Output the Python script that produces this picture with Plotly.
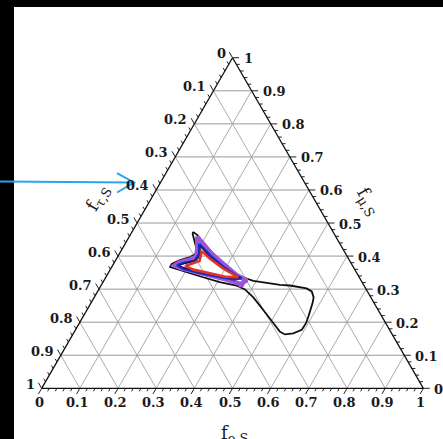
import math
import plotly.graph_objects as go

# ---------------- data (ternary fractions: f_e, f_mu; f_tau = 1 - f_e - f_mu) ----------------
tick_values = [0.0, 0.1, 0.2, 0.3, 0.4, 0.5, 0.6, 0.7, 0.8, 0.9, 1.0]
tick_labels = ["0", "0.1", "0.2", "0.3", "0.4", "0.5", "0.6", "0.7", "0.8", "0.9", "1"]
minor_step = 0.02

outer_black_fe = [0.160, 0.174, 0.202, 0.246, 0.301, 0.350, 0.392, 0.430, 0.468, 0.495, 0.543, 0.561,
                  0.575, 0.581, 0.586, 0.590, 0.594, 0.593, 0.576, 0.556, 0.539, 0.509, 0.463, 0.417,
                  0.383, 0.355, 0.306, 0.255, 0.204, 0.169, 0.153, 0.153, 0.168, 0.190, 0.200, 0.194,
                  0.177, 0.162]
outer_black_fmu = [0.473, 0.465, 0.442, 0.407, 0.367, 0.339, 0.325, 0.318, 0.313, 0.311, 0.302, 0.293,
                   0.275, 0.257, 0.239, 0.218, 0.197, 0.177, 0.166, 0.163, 0.171, 0.196, 0.236, 0.275,
                   0.299, 0.311, 0.321, 0.336, 0.352, 0.361, 0.367, 0.376, 0.388, 0.397, 0.405, 0.423,
                   0.447, 0.467]

purple_fe = [0.178, 0.198, 0.235, 0.287, 0.340, 0.374, 0.367, 0.369, 0.360, 0.320, 0.270, 0.221,
             0.180, 0.163, 0.171, 0.194, 0.206, 0.195]
purple_fmu = [0.459, 0.442, 0.412, 0.377, 0.342, 0.327, 0.320, 0.308, 0.317, 0.329, 0.342, 0.352,
              0.364, 0.372, 0.382, 0.390, 0.399, 0.426]

blue_fe = [0.194, 0.240, 0.293, 0.341, 0.357, 0.338, 0.289, 0.240, 0.190, 0.169, 0.182, 0.209, 0.209]
blue_fmu = [0.437, 0.402, 0.367, 0.340, 0.333, 0.329, 0.339, 0.349, 0.362, 0.372, 0.379, 0.385, 0.407]

inner_black_fe = [0.203, 0.242, 0.294, 0.350, 0.330, 0.280, 0.230, 0.185, 0.175, 0.195, 0.214, 0.212]
inner_black_fmu = [0.428, 0.397, 0.365, 0.335, 0.333, 0.343, 0.354, 0.366, 0.373, 0.381, 0.392, 0.410]

red_fe = [0.212, 0.245, 0.295, 0.347, 0.316, 0.267, 0.218, 0.191, 0.205, 0.221, 0.216]
red_fmu = [0.415, 0.392, 0.362, 0.336, 0.337, 0.348, 0.359, 0.370, 0.377, 0.385, 0.402]

# ---------------- helpers ----------------
S3 = math.sqrt(3) / 2


def to_xy(fe, fmu):
    return fe + fmu / 2.0, fmu * S3


def closed(fe_list, fmu_list):
    xs, ys = [], []
    for a, b in zip(fe_list + fe_list[:1], fmu_list + fmu_list[:1]):
        x, y = to_xy(a, b)
        xs.append(x)
        ys.append(y)
    return xs, ys


fig = go.Figure()

# grid lines
hx, hy, dx, dy = [], [], [], []
for v in tick_values[1:-1]:
    x0, y0 = to_xy(0.0, v)
    x1, y1 = to_xy(1.0 - v, v)
    hx += [x0, x1, None]
    hy += [y0, y1, None]
    x0, y0 = to_xy(v, 0.0)
    x1, y1 = to_xy(v, 1.0 - v)
    dx += [x0, x1, None]
    dy += [y0, y1, None]
    x0, y0 = to_xy(1.0 - v, 0.0)
    x1, y1 = to_xy(0.0, 1.0 - v)
    dx += [x0, x1, None]
    dy += [y0, y1, None]

fig.add_trace(go.Scatter(x=dx, y=dy, mode="lines", line=dict(color="#aaaaaa", width=1),
                         hoverinfo="skip", showlegend=False))
fig.add_trace(go.Scatter(x=hx, y=hy, mode="lines", line=dict(color="#999999", width=1),
                         hoverinfo="skip", showlegend=False))

# ticks
MAJ, MIN = 0.017, 0.009
tx, ty = [], []
n_minor = int(round(1 / minor_step))
for i in range(n_minor + 1):
    v = i * minor_step
    L = MAJ if i % 5 == 0 else MIN
    x, y = to_xy(v, 0.0)
    tx += [x, x - 0.5 * L, None]
    ty += [y, y - S3 * L, None]
    x, y = to_xy(0.0, 1.0 - v)
    tx += [x, x - 0.5 * L, None]
    ty += [y, y + S3 * L, None]
    x, y = to_xy(1.0 - v, v)
    tx += [x, x + L, None]
    ty += [y, y, None]

fig.add_trace(go.Scatter(x=tx, y=ty, mode="lines", line=dict(color="#222222", width=1),
                         hoverinfo="skip", showlegend=False))

# triangle outline
ox, oy = closed([0.0, 1.0, 0.0], [0.0, 0.0, 1.0])
fig.add_trace(go.Scatter(x=ox, y=oy, mode="lines", line=dict(color="#111111", width=1.3),
                         hoverinfo="skip", showlegend=False))

# contours
contours = [
    (outer_black_fe, outer_black_fmu, "#111111", 1.8),
    (purple_fe, purple_fmu, "#9b55d8", 4.5),
    (blue_fe, blue_fmu, "#1a2ac8", 2.6),
    (inner_black_fe, inner_black_fmu, "#151515", 1),
    (red_fe, red_fmu, "#e0352a", 2.6),
]
for fe, fmu, col, w in contours:
    xs, ys = closed(fe, fmu)
    fig.add_trace(go.Scatter(x=xs, y=ys, mode="lines", line=dict(color=col, width=w),
                             hoverinfo="skip", showlegend=False))

# tick labels
tick_font = dict(family="DejaVu Serif", size=13, color="#1a1a1a", weight="bold")
ann = []
for v, t in zip(tick_values, tick_labels):
    x, y = to_xy(v, 0.0)
    ann.append(dict(x=x, y=y, text=t, showarrow=False, xanchor="center", yanchor="middle",
                    xshift=-2.5, yshift=-14, font=tick_font))
    x, y = to_xy(0.0, 1.0 - v)
    ann.append(dict(x=x, y=y, text=t, showarrow=False, xanchor="right", yanchor="middle",
                    xshift=-5, yshift=4, font=tick_font))
    x, y = to_xy(1.0 - v, v)
    ann.append(dict(x=x, y=y, text=t, showarrow=False, xanchor="left", yanchor="middle",
                    xshift=9, yshift=-1, font=tick_font))

title_font = dict(family="DejaVu Serif", size=18, color="#1a1a1a")
ann.append(dict(x=234.3 / 443, y=1 - 434 / 439, xref="paper", yref="paper",
                text="f<sub><span style='font-size:13px'>e,S</span></sub>",
                showarrow=False, xanchor="center", yanchor="middle", font=title_font))
ann.append(dict(x=98.3 / 443, y=1 - 198.3 / 439, xref="paper", yref="paper",
                text="f<sub><span style='font-size:13px'>τ,S</span></sub>",
                showarrow=False, xanchor="center", yanchor="middle", textangle=-60, font=title_font))
ann.append(dict(x=368.3 / 443, y=1 - 201.7 / 439, xref="paper", yref="paper",
                text="f<sub><span style='font-size:13px'>μ,S</span></sub>",
                showarrow=False, xanchor="center", yanchor="middle", textangle=60, font=title_font))

W, H = 443, 439
shapes = [
    dict(type="rect", xref="paper", yref="paper", x0=0, x1=14 / W, y0=0, y1=1,
         fillcolor="black", line=dict(width=0), layer="above"),
    dict(type="rect", xref="paper", yref="paper", x0=0, x1=1, y0=1 - 7 / H, y1=1,
         fillcolor="black", line=dict(width=0), layer="above"),
    dict(type="line", xref="paper", yref="paper", x0=0, x1=133 / W, y0=1 - 181.5 / H, y1=1 - 182.5 / H,
         line=dict(color="#27a4ef", width=2), layer="above"),
    dict(type="path", xref="paper", yref="paper",
         path="M {:.4f},{:.4f} L {:.4f},{:.4f} L {:.4f},{:.4f}".format(
             117 / W, 1 - 173 / H, 134 / W, 1 - 182.5 / H, 117 / W, 1 - 192.5 / H),
         line=dict(color="#27a4ef", width=2), layer="above"),
]

fig.update_layout(
    width=W, height=H,
    margin=dict(l=0, r=0, t=0, b=0),
    paper_bgcolor="white", plot_bgcolor="white",
    xaxis=dict(range=[-0.1092, 1.0514], visible=False, fixedrange=True),
    yaxis=dict(range=[-0.1328, 1.0173], visible=False, fixedrange=True),
    annotations=ann, shapes=shapes, showlegend=False,
)

fig.write_html("out.html", config={"displayModeBar": False},
               post_script="document.body.style.margin='0';document.body.style.overflow='hidden';")
